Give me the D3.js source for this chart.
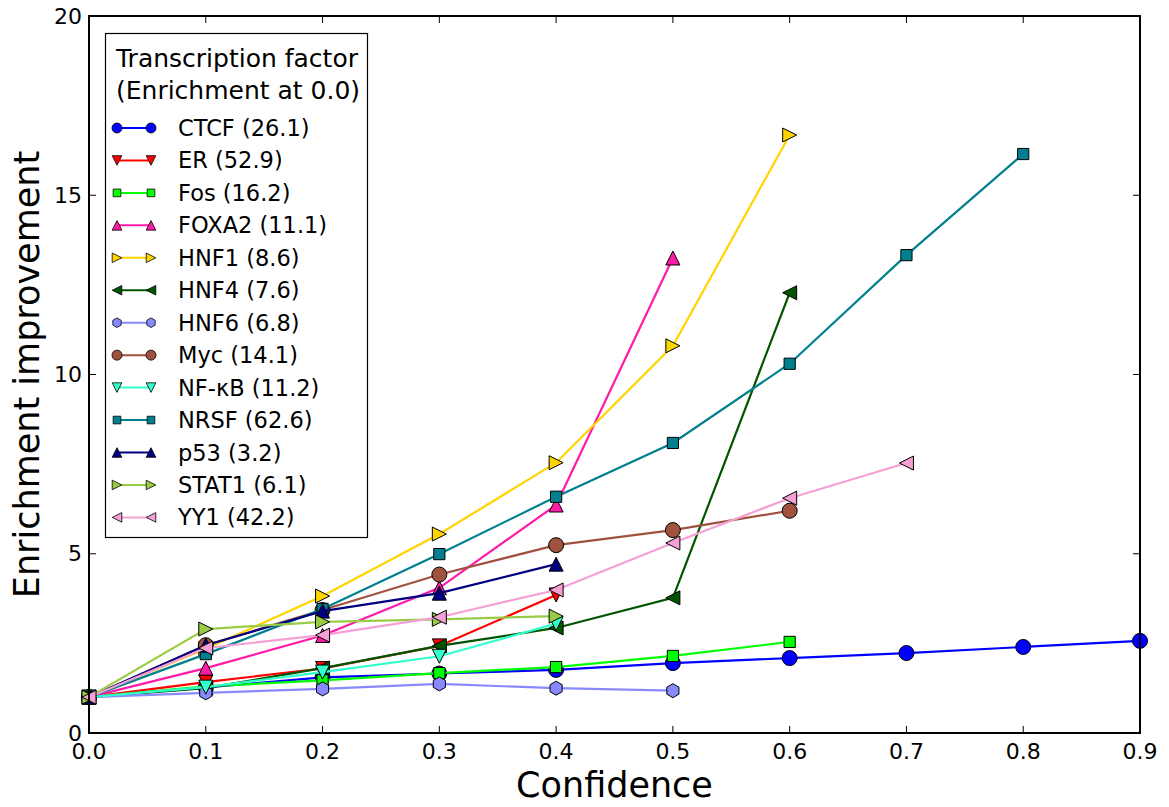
<!DOCTYPE html>
<html><head><meta charset="utf-8">
<script src="https://cdn.jsdelivr.net/npm/d3@7"></script>
<style>body{margin:0;background:#fff}svg{display:block}text{font-family:"DejaVu Sans",sans-serif}</style>
</head><body>
<svg id="c" width="1169" height="807"></svg>
<script>
const confidence = [0.0,0.1,0.2,0.3,0.4,0.5,0.6,0.7,0.8,0.9];
const xTicks = [0.0,0.1,0.2,0.3,0.4,0.5,0.6,0.7,0.8,0.9];
const yTicks = [0,5,10,15,20];
const names = ["CTCF (26.1)","ER (52.9)","Fos (16.2)","FOXA2 (11.1)","HNF1 (8.6)","HNF4 (7.6)","HNF6 (6.8)","Myc (14.1)","NF-κB (11.2)","NRSF (62.6)","p53 (3.2)","STAT1 (6.1)","YY1 (42.2)"];
const ctcf  = [1.0,1.27,1.55,1.66,1.76,1.95,2.09,2.23,2.40,2.57];
const er    = [1.0,1.42,1.80,2.43,3.85];
const fos   = [1.0,1.30,1.47,1.67,1.84,2.15,2.54];
const foxa2 = [1.0,1.81,2.72,4.05,6.36,13.25];
const hnf1  = [1.0,2.35,3.82,5.55,7.54,10.80,16.68];
const hnf4  = [1.0,1.25,1.81,2.43,2.93,3.77,12.28];
const hnf6  = [1.0,1.12,1.23,1.37,1.25,1.18];
const myc   = [1.0,2.45,3.43,4.42,5.24,5.66,6.20];
const nfkb  = [1.0,1.28,1.70,2.14,3.05];
const nrsf  = [1.0,2.20,3.46,4.99,6.59,8.09,10.30,13.33,16.15];
const p53   = [1.0,2.45,3.40,3.90,4.71];
const stat1 = [1.0,2.90,3.10,3.17,3.26];
const yy1   = [1.0,2.37,2.73,3.23,3.99,5.30,6.55,7.53];
const seriesValues = [ctcf,er,fos,foxa2,hnf1,hnf4,hnf6,myc,nfkb,nrsf,p53,stat1,yy1];
const colors = ["#0000ff","#ff0000","#00ff00","#ff1aa8","#ffd400","#005500","#8888ff","#a0523f","#33ffcc","#00808f","#000080","#99cc44","#f5a0d5"];
const markers = ["o","v","s","^",">","<","h","o","v","s","^",">","<"];

const svg = d3.select("#c");
const L=89, R=1140, T=16, B=733;
const x = d3.scaleLinear().domain([0,0.9]).range([L,R]);
const y = d3.scaleLinear().domain([0,20]).range([B,T]);

function markerPath(m, s){
  const p = d3.path();
  if(m==="o"){ p.arc(0,0,s,0,2*Math.PI); return p.toString(); }
  if(m==="s"){ const h=s*0.8; return `M${-h},${-h}H${h}V${h}H${-h}Z`; }
  if(m==="h"){ let d=""; for(let i=0;i<6;i++){const a=-Math.PI/2+i*Math.PI/3; d+=(i?"L":"M")+(s*Math.cos(a)).toFixed(2)+","+(s*Math.sin(a)).toFixed(2);} return d+"Z"; }
  const tri = {"^":[[0,-1],[-1,1],[1,1]],"v":[[0,1],[-1,-1],[1,-1]],">":[[1,0],[-1,-1],[-1,1]],"<":[[-1,0],[1,-1],[1,1]]}[m];
  return "M"+tri.map(v=>(v[0]*s).toFixed(2)+","+(v[1]*s).toFixed(2)).join("L")+"Z";
}
const mSize = {"o":7.5,"s":7,"h":7,"^":7,"v":7,">":7,"<":7};

const plot = svg.append("g");
const line = d3.line().x((d,i)=>x(confidence[i])).y(d=>y(d));
seriesValues.forEach((vals,k)=>{
  const g = plot.append("g");
  g.append("path").attr("d",line(vals)).attr("fill","none").attr("stroke",colors[k]).attr("stroke-width",2.2);
  g.selectAll("path.m").data(vals).enter().append("path").attr("class","m")
    .attr("transform",(d,i)=>`translate(${x(confidence[i])},${y(d)})`)
    .attr("d",markerPath(markers[k],mSize[markers[k]]))
    .attr("fill",colors[k]).attr("stroke","#000").attr("stroke-width",1);
});

// frame & ticks
const ax = svg.append("g").attr("stroke","#000");
ax.append("rect").attr("x",L).attr("y",T).attr("width",R-L).attr("height",B-T).attr("fill","none").attr("stroke-width",2);
xTicks.forEach(t=>{
  ax.append("line").attr("x1",x(t)).attr("x2",x(t)).attr("y1",B).attr("y2",B-7).attr("stroke-width",1);
  ax.append("line").attr("x1",x(t)).attr("x2",x(t)).attr("y1",T).attr("y2",T+7).attr("stroke-width",1);
  svg.append("text").attr("x",x(t)).attr("y",B+26).attr("text-anchor","middle").attr("font-size",22).text(d3.format(".1f")(t));
});
yTicks.forEach(t=>{
  ax.append("line").attr("x1",L).attr("x2",L+7).attr("y1",y(t)).attr("y2",y(t)).attr("stroke-width",1);
  ax.append("line").attr("x1",R).attr("x2",R-7).attr("y1",y(t)).attr("y2",y(t)).attr("stroke-width",1);
  svg.append("text").attr("x",L-7).attr("y",y(t)+7.5).attr("text-anchor","end").attr("font-size",22).text(t);
});
svg.append("text").attr("x",(L+R)/2).attr("y",797).attr("text-anchor","middle").attr("font-size",35).text("Confidence");
svg.append("text").attr("transform",`translate(39,${(T+B)/2}) rotate(-90)`).attr("text-anchor","middle").attr("font-size",35).text("Enrichment improvement");

// legend
const lg = svg.append("g");
lg.append("rect").attr("x",105.5).attr("y",33.5).attr("width",262).attr("height",504).attr("fill","#fff").attr("stroke","#000").attr("stroke-width",1.2);
lg.append("text").attr("x",116).attr("y",67).attr("font-size",25).text("Transcription factor");
lg.append("text").attr("x",116).attr("y",99).attr("font-size",25).text("(Enrichment at 0.0)");
names.forEach((n,k)=>{
  const cy = 128 + k*32.45;
  lg.append("line").attr("x1",117).attr("x2",151).attr("y1",cy).attr("y2",cy).attr("stroke",colors[k]).attr("stroke-width",2);
  [117,151].forEach(cx=>lg.append("path").attr("transform",`translate(${cx},${cy})`).attr("d",markerPath(markers[k],markers[k]==="o"?5:4.8)).attr("fill",colors[k]).attr("stroke","#000").attr("stroke-width",0.8));
  lg.append("text").attr("x",178).attr("y",cy+8).attr("font-size",22.5).text(n);
});
</script>
</body></html>
